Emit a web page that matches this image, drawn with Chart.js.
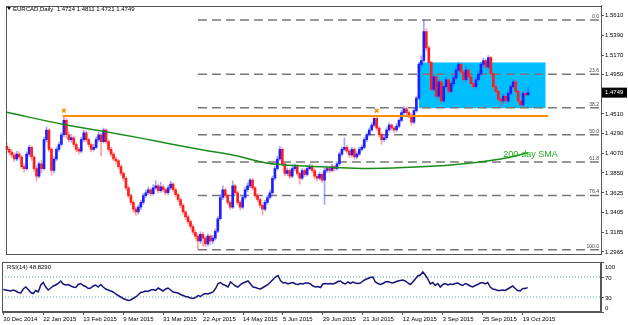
<!DOCTYPE html>
<html lang="en">
<head>
<meta charset="UTF-8">
<title>EURCAD Daily</title>
<script src="https://cdn.jsdelivr.net/npm/chart.js"></script>
<style>
  body { margin: 0; background: #fff; }
  #wrap { position: relative; width: 628px; height: 325px; }
  #price-chart { position: absolute; left: 0; top: 0; }
  #rsi-chart { position: absolute; left: 0; top: 260px; }
</style>
</head>
<body>
<div id="wrap">
  <canvas id="price-chart" width="628" height="260"></canvas>
  <canvas id="rsi-chart" width="628" height="65"></canvas>
</div>
<script>
// daily candles, bar 0 = 30 Dec 2014
const opens = [
  1.4147, 1.4114, 1.4082, 1.4050, 1.4006, 1.4060, 1.4028, 1.3920, 1.3898, 1.4060,
  1.4136, 1.4028, 1.3898, 1.3812, 1.3952, 1.3898, 1.4222, 1.4331, 1.4114, 1.3877,
  1.4006, 1.4114, 1.4168, 1.4277, 1.4439, 1.4277, 1.4222, 1.4244, 1.4168, 1.4114,
  1.4093, 1.4222, 1.4298, 1.4222, 1.4168, 1.4114, 1.4136, 1.4222, 1.4277, 1.4201,
  1.4331, 1.4201, 1.4114, 1.4060, 1.4006, 1.3985, 1.3920, 1.3844, 1.3790, 1.3682,
  1.3596, 1.3520, 1.3444, 1.3412, 1.3466, 1.3520, 1.3596, 1.3628, 1.3661, 1.3617,
  1.3682, 1.3704, 1.3650, 1.3693, 1.3661, 1.3628, 1.3682, 1.3725, 1.3661, 1.3606,
  1.3552, 1.3488, 1.3412, 1.3358, 1.3304, 1.3250, 1.3185, 1.3142, 1.3088, 1.3163,
  1.3120, 1.3055, 1.3142, 1.3088, 1.3120, 1.3196, 1.3336, 1.3574, 1.3661, 1.3596,
  1.3520, 1.3466, 1.3704, 1.3628, 1.3520, 1.3466, 1.3574, 1.3661, 1.3704, 1.3769,
  1.3682, 1.3596, 1.3552, 1.3488, 1.3444, 1.3520, 1.3574, 1.3628, 1.3790, 1.3898,
  1.4006, 1.4114, 1.3952, 1.3844, 1.3877, 1.3812, 1.3898, 1.3920, 1.3844, 1.3790,
  1.3877, 1.3833, 1.3898, 1.3920, 1.3877, 1.3812, 1.3790, 1.3833, 1.3769, 1.3877,
  1.3898, 1.3877, 1.3920, 1.3898, 1.3952, 1.4060, 1.4114, 1.4136, 1.4093, 1.4050,
  1.4114, 1.4028, 1.4060, 1.4114, 1.4136, 1.4222, 1.4277, 1.4331, 1.4385, 1.4460,
  1.4352, 1.4277, 1.4222, 1.4244, 1.4331, 1.4385, 1.4352, 1.4331, 1.4374, 1.4439,
  1.4525, 1.4569, 1.4525, 1.4493, 1.4417, 1.4547, 1.4687, 1.5066, 1.5109, 1.5433,
  1.5250, 1.5087, 1.4785, 1.4925, 1.4709, 1.4871, 1.4655, 1.4817, 1.4893, 1.4763,
  1.4850, 1.4914, 1.5001, 1.5066, 1.4979, 1.4893, 1.5001, 1.4925, 1.4850, 1.4817,
  1.4893, 1.4958, 1.5066, 1.5109, 1.5033, 1.5142, 1.4958, 1.4817, 1.4763, 1.4677,
  1.4655, 1.4709, 1.4655, 1.4741, 1.4817, 1.4871, 1.4763, 1.4655, 1.4612, 1.4741,
  1.4724
];
const highs = [
  1.4178, 1.4140, 1.4110, 1.4075, 1.4092, 1.4088, 1.4046, 1.3951, 1.4085, 1.4160,
  1.4152, 1.4045, 1.3930, 1.3975, 1.3990, 1.4250, 1.4363, 1.4345, 1.4130, 1.4030,
  1.4140, 1.4195, 1.4300, 1.4471, 1.4465, 1.4310, 1.4280, 1.4265, 1.4190, 1.4135,
  1.4250, 1.4330, 1.4320, 1.4240, 1.4185, 1.4170, 1.4255, 1.4305, 1.4290, 1.4352,
  1.4345, 1.4220, 1.4135, 1.4080, 1.4030, 1.4000, 1.3940, 1.3865, 1.3810, 1.3705,
  1.3615, 1.3540, 1.3470, 1.3490, 1.3545, 1.3620, 1.3660, 1.3690, 1.3680, 1.3720,
  1.3760, 1.3725, 1.3745, 1.3715, 1.3680, 1.3710, 1.3758, 1.3740, 1.3680, 1.3625,
  1.3570, 1.3505, 1.3430, 1.3380, 1.3325, 1.3270, 1.3210, 1.3165, 1.3190, 1.3185,
  1.3140, 1.3165, 1.3160, 1.3150, 1.3220, 1.3360, 1.3600, 1.3704, 1.3680, 1.3615,
  1.3540, 1.3760, 1.3725, 1.3645, 1.3540, 1.3600, 1.3690, 1.3735, 1.3790, 1.3785,
  1.3700, 1.3620, 1.3570, 1.3505, 1.3545, 1.3600, 1.3655, 1.3815, 1.3925, 1.4035,
  1.4147, 1.4130, 1.3970, 1.3905, 1.3895, 1.3925, 1.3950, 1.3940, 1.3860, 1.3900,
  1.3895, 1.3925, 1.3950, 1.3940, 1.3895, 1.3830, 1.3855, 1.3850, 1.3900, 1.3925,
  1.3915, 1.3945, 1.3935, 1.3975, 1.4085, 1.4140, 1.4244, 1.4160, 1.4110, 1.4140,
  1.4130, 1.4085, 1.4140, 1.4165, 1.4245, 1.4300, 1.4355, 1.4410, 1.4471, 1.4475,
  1.4370, 1.4295, 1.4270, 1.4355, 1.4410, 1.4400, 1.4370, 1.4400, 1.4460, 1.4550,
  1.4595, 1.4590, 1.4545, 1.4510, 1.4570, 1.4710, 1.5090, 1.5160, 1.5563, 1.5466,
  1.5270, 1.5100, 1.4950, 1.4940, 1.4895, 1.4885, 1.4840, 1.4920, 1.4910, 1.4875,
  1.4940, 1.5030, 1.5090, 1.5080, 1.5000, 1.5040, 1.5020, 1.4945, 1.4870, 1.4920,
  1.4985, 1.5090, 1.5135, 1.5125, 1.5163, 1.5155, 1.4975, 1.4835, 1.4780, 1.4700,
  1.4735, 1.4725, 1.4765, 1.4840, 1.4895, 1.4885, 1.4780, 1.4675, 1.4765, 1.4770,
  1.4811
];
const lows = [
  1.4080, 1.4055, 1.4021, 1.3978, 1.3985, 1.4001, 1.3897, 1.3862, 1.3880, 1.4035,
  1.3990, 1.3870, 1.3760, 1.3795, 1.3850, 1.3880, 1.4195, 1.4085, 1.3825, 1.3850,
  1.3985, 1.4090, 1.4150, 1.4255, 1.4240, 1.4195, 1.4190, 1.4140, 1.4085, 1.4060,
  1.4075, 1.4200, 1.4195, 1.4140, 1.4085, 1.4095, 1.4120, 1.4200, 1.4040, 1.4185,
  1.4180, 1.4090, 1.4035, 1.3980, 1.3955, 1.3895, 1.3820, 1.3760, 1.3655, 1.3570,
  1.3490, 1.3410, 1.3375, 1.3390, 1.3440, 1.3500, 1.3575, 1.3605, 1.3590, 1.3600,
  1.3665, 1.3625, 1.3630, 1.3640, 1.3600, 1.3610, 1.3665, 1.3640, 1.3580, 1.3525,
  1.3460, 1.3385, 1.3330, 1.3275, 1.3220, 1.3160, 1.3110, 1.2990, 1.3060, 1.3030,
  1.3020, 1.3030, 1.3050, 1.3060, 1.3100, 1.3180, 1.3320, 1.3550, 1.3570, 1.3495,
  1.3440, 1.3450, 1.3600, 1.3490, 1.3435, 1.3450, 1.3555, 1.3640, 1.3685, 1.3660,
  1.3570, 1.3525, 1.3460, 1.3379, 1.3425, 1.3500, 1.3555, 1.3610, 1.3770, 1.3880,
  1.3990, 1.3930, 1.3815, 1.3820, 1.3785, 1.3795, 1.3875, 1.3815, 1.3725, 1.3770,
  1.3810, 1.3815, 1.3880, 1.3850, 1.3785, 1.3760, 1.3770, 1.3740, 1.3498, 1.3855,
  1.3850, 1.3860, 1.3870, 1.3880, 1.3935, 1.4040, 1.4095, 1.4070, 1.4020, 1.4030,
  1.4000, 1.4010, 1.4045, 1.4095, 1.4120, 1.4200, 1.4260, 1.4315, 1.4365, 1.4330,
  1.4250, 1.4168, 1.4200, 1.4225, 1.4310, 1.4325, 1.4300, 1.4310, 1.4355, 1.4420,
  1.4505, 1.4500, 1.4465, 1.4385, 1.4400, 1.4530, 1.4670, 1.5040, 1.5090, 1.5220,
  1.5055, 1.4760, 1.4765, 1.4680, 1.4690, 1.4630, 1.4640, 1.4800, 1.4740, 1.4745,
  1.4830, 1.4895, 1.4985, 1.4955, 1.4870, 1.4875, 1.4900, 1.4825, 1.4790, 1.4800,
  1.4875, 1.4940, 1.5045, 1.5010, 1.5015, 1.4935, 1.4790, 1.4740, 1.4650, 1.4595,
  1.4630, 1.4625, 1.4640, 1.4725, 1.4800, 1.4740, 1.4630, 1.4590, 1.4595, 1.4700,
  1.4721
];
const closes = [
  1.4114, 1.4082, 1.4050, 1.4006, 1.4060, 1.4028, 1.3920, 1.3898, 1.4060, 1.4136,
  1.4028, 1.3898, 1.3812, 1.3952, 1.3898, 1.4222, 1.4331, 1.4114, 1.3877, 1.4006,
  1.4114, 1.4168, 1.4277, 1.4439, 1.4277, 1.4222, 1.4244, 1.4168, 1.4114, 1.4093,
  1.4222, 1.4298, 1.4222, 1.4168, 1.4114, 1.4136, 1.4222, 1.4277, 1.4201, 1.4331,
  1.4201, 1.4114, 1.4060, 1.4006, 1.3985, 1.3920, 1.3844, 1.3790, 1.3682, 1.3596,
  1.3520, 1.3444, 1.3412, 1.3466, 1.3520, 1.3596, 1.3628, 1.3661, 1.3617, 1.3682,
  1.3704, 1.3650, 1.3693, 1.3661, 1.3628, 1.3682, 1.3725, 1.3661, 1.3606, 1.3552,
  1.3488, 1.3412, 1.3358, 1.3304, 1.3250, 1.3185, 1.3142, 1.3088, 1.3163, 1.3120,
  1.3055, 1.3142, 1.3088, 1.3120, 1.3196, 1.3336, 1.3574, 1.3661, 1.3596, 1.3520,
  1.3466, 1.3704, 1.3628, 1.3520, 1.3466, 1.3574, 1.3661, 1.3704, 1.3769, 1.3682,
  1.3596, 1.3552, 1.3488, 1.3444, 1.3520, 1.3574, 1.3628, 1.3790, 1.3898, 1.4006,
  1.4114, 1.3952, 1.3844, 1.3877, 1.3812, 1.3898, 1.3920, 1.3844, 1.3790, 1.3877,
  1.3833, 1.3898, 1.3920, 1.3877, 1.3812, 1.3790, 1.3833, 1.3769, 1.3877, 1.3898,
  1.3877, 1.3920, 1.3898, 1.3952, 1.4060, 1.4114, 1.4136, 1.4093, 1.4050, 1.4114,
  1.4028, 1.4060, 1.4114, 1.4136, 1.4222, 1.4277, 1.4331, 1.4385, 1.4460, 1.4352,
  1.4277, 1.4222, 1.4244, 1.4331, 1.4385, 1.4352, 1.4331, 1.4374, 1.4439, 1.4525,
  1.4569, 1.4525, 1.4493, 1.4417, 1.4547, 1.4687, 1.5066, 1.5109, 1.5433, 1.5250,
  1.5087, 1.4785, 1.4925, 1.4709, 1.4871, 1.4655, 1.4817, 1.4893, 1.4763, 1.4850,
  1.4914, 1.5001, 1.5066, 1.4979, 1.4893, 1.5001, 1.4925, 1.4850, 1.4817, 1.4893,
  1.4958, 1.5066, 1.5109, 1.5033, 1.5142, 1.4958, 1.4817, 1.4763, 1.4677, 1.4655,
  1.4709, 1.4655, 1.4741, 1.4817, 1.4871, 1.4763, 1.4655, 1.4612, 1.4741, 1.4724,
  1.4749
];
const rsiValues = [
  45, 44, 43, 42, 44, 42, 39, 38, 46, 50,
  45, 39, 37, 43, 40, 54, 59, 50, 44, 48,
  52, 54, 57, 62, 56, 54, 55, 52, 50, 49,
  55, 57, 53, 51, 47, 48, 52, 54, 50, 55,
  50, 46, 44, 42, 40, 36, 33, 30, 27, 25,
  23, 24, 27, 30, 34, 39, 40, 42, 41, 44,
  45, 43, 48, 45, 42, 46, 48, 44, 40, 39,
  38, 35, 33, 31, 30, 28, 27, 29, 33, 31,
  35, 37, 36, 38, 40, 47, 57, 59, 55, 53,
  50, 60, 56, 52, 50, 55, 58, 60, 62, 56,
  50, 49, 47, 46, 49, 52, 55, 60, 65, 70,
  73, 63, 58, 59, 56, 58, 59, 56, 55, 57,
  56, 58, 58, 56, 52, 50, 51, 49, 56, 57,
  56, 57, 56, 58, 61, 62, 58, 56, 60, 57,
  60, 58, 57, 58, 62, 65, 67, 69, 70, 60,
  57, 55, 57, 60, 61, 59, 58, 60, 62, 63,
  64, 62, 58, 55, 60, 66, 72, 74, 80, 74,
  66, 56, 59, 53, 57, 50, 55, 57, 54, 56,
  55, 57, 58, 55, 53, 57, 55, 52, 50, 53,
  55, 58, 59, 56, 59, 50, 46, 45, 43, 43,
  44, 43, 46, 49, 52, 47, 43, 42, 47, 47,
  48.829
];

// 200-day simple moving average, sampled along its path
const smaBars = [0, 23, 39, 53, 65, 79, 91, 104, 111, 118, 131, 145, 160, 180, 199, 210];
const smaValues = [1.4529, 1.4392, 1.4315, 1.4245, 1.4180, 1.4107, 1.4050, 1.3963, 1.3942,
  1.3930, 1.3912, 1.3900, 1.3910, 1.3940, 1.4006, 1.4075];

const dateLabels = ['30 Dec 2014', '22 Jan 2015', '13 Feb 2015', '9 Mar 2015', '31 Mar 2015',
  '22 Apr 2015', '14 May 2015', '5 Jun 2015', '29 Jun 2015', '21 Jul 2015', '12 Aug 2015',
  '3 Sep 2015', '25 Sep 2015', '19 Oct 2015'];
const dateBars = [0, 16, 32, 48, 64, 80, 96, 112, 128, 144, 160, 176, 192, 208];
const priceTicks = [1.5610, 1.5390, 1.5170, 1.4950, 1.4510, 1.4290, 1.4070, 1.3850,
  1.3625, 1.3405, 1.3185, 1.2965];
const rsiTicks = [100, 70, 30, 0];
const rsiLevels = [70, 30];

// drawing objects
const fibRatios = [0, 23.6, 38.2, 50, 61.8, 76.4, 100];
const fibHigh = 1.5563;
const fibLow = 1.2990;
const fibStartBar = 77;
const supportPrice = 1.4487;
const supportBars = [22.5, 218];
const swingBars = [23, 149];
const swingMarks = [1.4547, 1.4547];
const rangeBars = [166, 217];
const rangePrices = [1.4575, 1.5087];

const xMin = -0.52, xMax = 239.36;
const barIdx = closes.map((c, i) => i);
const isUp = barIdx.map(i => closes[i] >= opens[i]);

Chart.defaults.font.family = "'Liberation Sans', Arial, sans-serif";
Chart.defaults.font.size = 6;
Chart.defaults.color = '#000';

function frame(chart) {
    const {ctx, chartArea: a} = chart;
    ctx.save();
    ctx.strokeStyle = '#555';
    ctx.lineWidth = 1;
    ctx.strokeRect(Math.round(a.left) + 0.5, Math.round(a.top) + 0.5,
        Math.round(a.right - a.left) - 1, Math.round(a.bottom - a.top) - 1);
    ctx.restore();
}

const priceOverlay = {
    id: 'priceOverlay',
    beforeDatasetsDraw(chart) {
        const {ctx, scales: {x, y}} = chart;
        const x0 = x.getPixelForValue(rangeBars[0]);
        const x1 = x.getPixelForValue(rangeBars[1]);
        const y0 = y.getPixelForValue(rangePrices[1]);
        const y1 = y.getPixelForValue(rangePrices[0]);
        ctx.save();
        ctx.fillStyle = '#00bfff';
        ctx.fillRect(x0, y0, x1 - x0, y1 - y0);
        ctx.restore();
    },
    afterDraw(chart) {
        const {ctx, chartArea: a, scales: {x, y}} = chart;
        const last = closes.length - 1;
        ctx.save();
        // fibonacci level captions
        ctx.font = "5px 'Liberation Sans'";
        ctx.fillStyle = '#444';
        ctx.textAlign = 'right';
        ctx.textBaseline = 'bottom';
        fibRatios.forEach(r => {
            const py = y.getPixelForValue(fibHigh - (fibHigh - fibLow) * r / 100);
            ctx.fillText(r.toFixed(1), a.right - 2, py - 1);
        });
        // moving average caption
        ctx.font = "9px 'Liberation Sans'";
        ctx.fillStyle = '#22aa22';
        ctx.textAlign = 'left';
        ctx.textBaseline = 'middle';
        ctx.fillText('200-day SMA', x.getPixelForValue(200), y.getPixelForValue(1.4060));
        // symbol header
        ctx.fillStyle = '#000';
        ctx.beginPath();
        ctx.moveTo(7, 7); ctx.lineTo(11, 7); ctx.lineTo(9, 10); ctx.closePath();
        ctx.fill();
        ctx.font = "6px 'Liberation Sans'";
        ctx.fillText('EURCAD,Daily  ' + [opens[last], highs[last], lows[last], closes[last]]
            .map(v => v.toFixed(4)).join(' '), 13, 9);
        // last price tag
        const py = y.getPixelForValue(closes[last]);
        ctx.fillRect(a.right + 1, py - 5, 25, 10);
        ctx.fillStyle = '#fff';
        ctx.fillText(closes[last].toFixed(4), a.right + 4, py);
        ctx.restore();
        frame(chart);
    }
};

const rsiOverlay = {
    id: 'rsiOverlay',
    afterDraw(chart) {
        const {ctx, chartArea: a, scales: {y}} = chart;
        ctx.save();
        ctx.font = "6px 'Liberation Sans'";
        ctx.fillStyle = '#000';
        ctx.textAlign = 'left';
        ctx.textBaseline = 'middle';
        rsiTicks.forEach(v => {
            const py = Math.min(Math.max(y.getPixelForValue(v), a.top + 4), a.bottom - 5);
            ctx.fillText(String(v), a.right + 4, py + 1);
        });
        ctx.fillText('RSI(14) ' + rsiValues[rsiValues.length - 1].toFixed(4), 7, a.top + 5);
        ctx.restore();
        frame(chart);
    }
};

const fibSets = fibRatios.map(r => {
    const p = fibHigh - (fibHigh - fibLow) * r / 100;
    return {
        type: 'line',
        data: [{x: fibStartBar, y: p}, {x: xMax, y: p}],
        borderColor: '#777',
        borderWidth: 1.5,
        borderDash: [9, 5],
        pointRadius: 0,
        order: 6
    };
});

new Chart(document.getElementById('price-chart'), {
    type: 'bar',
    data: {
        datasets: [
            {
                type: 'scatter',
                data: swingBars.map((b, i) => ({x: b, y: swingMarks[i]})),
                pointStyle: 'crossRot',
                pointRadius: 2.5,
                borderColor: '#ff8c00',
                borderWidth: 1.5,
                order: 0
            },
            {
                type: 'line',
                data: supportBars.map(b => ({x: b, y: supportPrice})),
                borderColor: '#ff8c00',
                borderWidth: 2,
                pointRadius: 0,
                order: 1
            },
            {
                type: 'line',
                data: smaBars.map((b, i) => ({x: b, y: smaValues[i]})),
                borderColor: '#1a8c1a',
                borderWidth: 1.5,
                pointRadius: 0,
                tension: 0.4,
                order: 2
            },
            {
                data: barIdx.map(i => ({x: i, y: [opens[i], closes[i]]})),
                backgroundColor: isUp.map(u => u ? '#1e1eff' : '#ff1e1e'),
                barThickness: 2,
                minBarLength: 1,
                grouped: false,
                order: 3
            },
            {
                data: barIdx.map(i => ({x: i, y: [lows[i], highs[i]]})),
                backgroundColor: isUp.map(u => u ? 'rgba(70,70,255,0.5)' : 'rgba(255,70,70,0.5)'),
                barThickness: 1,
                grouped: false,
                order: 4
            },
            ...fibSets
        ]
    },
    options: {
        responsive: false,
        animation: false,
        layout: {padding: {left: 2, top: 1, bottom: 1, right: 0}},
        plugins: {legend: {display: false}, tooltip: {enabled: false}},
        scales: {
            x: {type: 'linear', min: xMin, max: xMax, offset: false, display: false},
            y: {
                position: 'right',
                min: 1.2936,
                max: 1.5725,
                afterFit(scale) { scale.width = 27; },
                afterBuildTicks(scale) { scale.ticks = priceTicks.map(v => ({value: v})); },
                // tiny line height keeps the label boxes from shrinking the plot area
                ticks: {padding: 1, font: {size: 6, lineHeight: 0.2}, callback: v => v.toFixed(4)},
                grid: {drawOnChartArea: false, tickLength: 3, color: '#555'},
                border: {color: '#555'}
            }
        }
    },
    plugins: [priceOverlay]
});

new Chart(document.getElementById('rsi-chart'), {
    type: 'line',
    data: {
        datasets: [
            {
                data: barIdx.map(i => ({x: i, y: rsiValues[i]})),
                borderColor: '#16167a',
                borderWidth: 1.5,
                pointRadius: 0
            },
            ...rsiLevels.map(v => ({
                data: [{x: xMin, y: v}, {x: xMax, y: v}],
                borderColor: '#5aa9a9',
                borderWidth: 1,
                borderDash: [1, 2],
                pointRadius: 0
            }))
        ]
    },
    options: {
        responsive: false,
        animation: false,
        layout: {padding: {left: 2, top: 2, bottom: 0, right: 0}},
        plugins: {legend: {display: false}, tooltip: {enabled: false}},
        scales: {
            x: {
                type: 'linear',
                min: xMin,
                max: xMax,
                offset: false,
                afterFit(scale) { scale.height = 13; },
                afterBuildTicks(scale) { scale.ticks = dateBars.map(v => ({value: v})); },
                ticks: {
                    align: 'start',
                    padding: 1,
                    maxRotation: 0,
                    autoSkip: false,
                    callback: v => dateLabels[dateBars.indexOf(v)]
                },
                grid: {drawOnChartArea: false, tickLength: 3, color: '#555'},
                border: {color: '#555'}
            },
            y: {
                position: 'right',
                min: 0,
                max: 100,
                afterFit(scale) { scale.width = 27; },
                afterBuildTicks(scale) { scale.ticks = rsiTicks.map(v => ({value: v})); },
                ticks: {display: false},
                grid: {drawOnChartArea: false, tickLength: 3, color: '#555'},
                border: {color: '#555'}
            }
        }
    },
    plugins: [rsiOverlay]
});
</script>
</body>
</html>
